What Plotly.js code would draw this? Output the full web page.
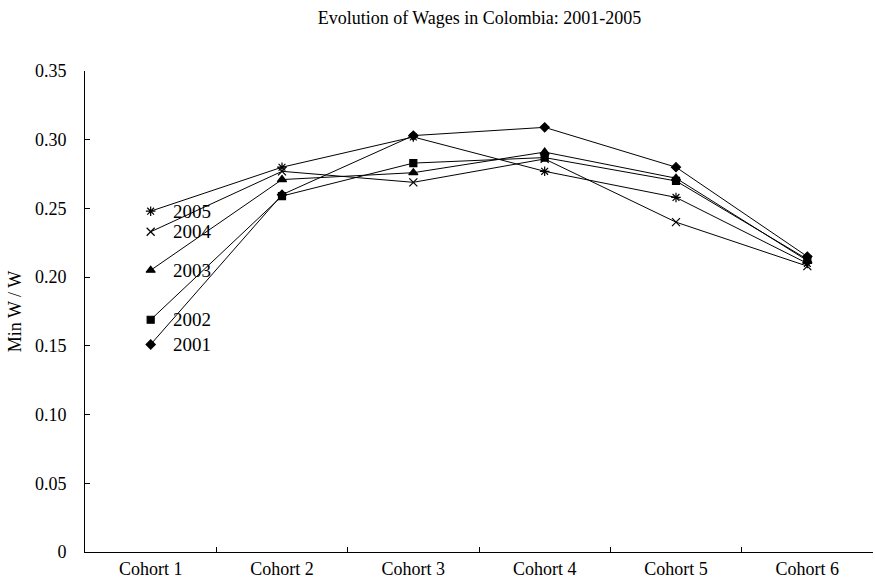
<!DOCTYPE html>
<html>
<head>
<meta charset="utf-8">
<script src="https://cdn.plot.ly/plotly-3.0.1.min.js"></script>
<style>html,body{margin:0;padding:0;background:#fff;}#chart{width:875px;height:587px;}</style>
</head>
<body>
<div id="chart"></div>
<script>
const cohorts = ["Cohort 1", "Cohort 2", "Cohort 3", "Cohort 4", "Cohort 5", "Cohort 6"];
const years = ["2001", "2002", "2003", "2004", "2005"];
const y2001 = [0.151, 0.260, 0.303, 0.309, 0.280, 0.215];
const y2002 = [0.169, 0.259, 0.283, 0.287, 0.270, 0.213];
const y2003 = [0.205, 0.271, 0.276, 0.291, 0.272, 0.212];
const y2004 = [0.233, 0.277, 0.269, 0.286, 0.240, 0.208];
const y2005 = [0.248, 0.280, 0.302, 0.277, 0.258, 0.210];
const yTickVals = [0, 0.05, 0.10, 0.15, 0.20, 0.25, 0.30, 0.35];
const yTickText = ["0", "0.05", "0.10", "0.15", "0.20", "0.25", "0.30", "0.35"];

const seriesValues = [y2001, y2002, y2003, y2004, y2005];
const symbols = ["diamond", "square", "triangle-up", "x-thin-open", "asterisk-open"];
const sizes = [7, 7, 8, 8, 8];

const FONT = "Liberation Serif";

const traces = seriesValues.map((vals, i) => ({
  type: "scatter",
  mode: "lines+markers",
  name: years[i],
  x: cohorts,
  y: vals,
  line: {color: "#000", width: 1},
  marker: {symbol: symbols[i], size: sizes[i], color: "#000", line: {color: "#000", width: 1.2}},
  cliponaxis: false
}));

const annotations = seriesValues.map((vals, i) => ({
  x: cohorts[0],
  y: vals[0],
  xref: "x",
  yref: "y",
  text: years[i],
  showarrow: false,
  xanchor: "left",
  yanchor: "middle",
  xshift: 20,
  font: {family: FONT, size: 19, color: "#000"}
}));

const layout = {
  width: 875,
  height: 587,
  margin: {l: 85, r: 2, t: 71, b: 35},
  paper_bgcolor: "#fff",
  plot_bgcolor: "#fff",
  showlegend: false,
  font: {family: FONT, size: 18, color: "#000"},
  title: {
    text: "Evolution of Wages in Colombia: 2001-2005",
    font: {family: FONT, size: 18, color: "#000"},
    x: 0.548, xanchor: "center",
    y: 0.97, yanchor: "middle"
  },
  xaxis: {
    type: "category",
    range: [-0.5, 5.5],
    showgrid: false,
    zeroline: false,
    showline: true,
    linecolor: "#000",
    linewidth: 1,
    ticks: "inside",
    ticklen: 5,
    tickcolor: "#000",
    tickson: "boundaries",
    tickfont: {family: FONT, size: 18, color: "#000"},
    fixedrange: true
  },
  yaxis: {
    range: [0, 0.35],
    tickvals: yTickVals,
    ticktext: yTickText,
    showgrid: false,
    zeroline: false,
    showline: true,
    linecolor: "#000",
    linewidth: 1,
    ticks: "inside",
    ticklen: 5,
    tickcolor: "#000",
    ticklabelstandoff: 14,
    tickfont: {family: FONT, size: 18, color: "#000"},
    title: {text: "Min W / W", font: {family: FONT, size: 18, color: "#000"}, standoff: 8},
    fixedrange: true
  },
  annotations: annotations
};

Plotly.newPlot("chart", traces, layout, {displayModeBar: false, staticPlot: true});
</script>
</body>
</html>
